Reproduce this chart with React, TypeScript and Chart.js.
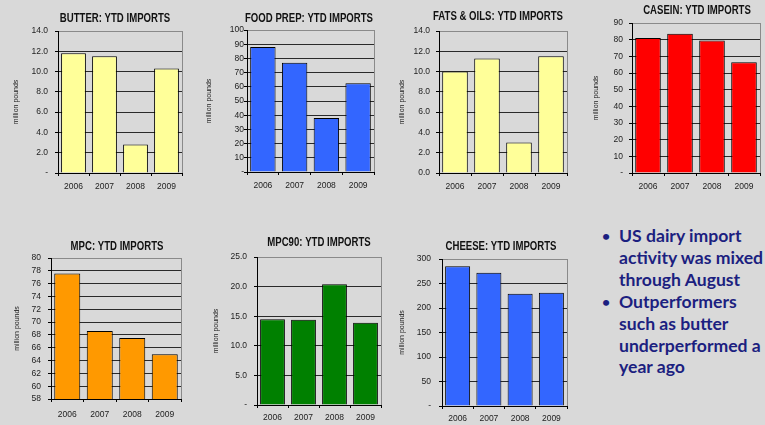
import React, { useEffect, useRef } from "react";
import { Chart, registerables } from "chart.js";

Chart.register(...registerables);

// ---- data ----
const years = ["2006", "2007", "2008", "2009"];
const butterImports = [11.8, 11.5, 2.8, 10.3];
const foodPrepImports = [88, 77, 38, 62.5];
const fatsOilsImports = [10.0, 11.3, 3.0, 11.5];
const caseinImports = [81, 83.5, 79.5, 66.5];
const mpcImports = [77.6, 68.6, 67.5, 65.0];
const mpc90Imports = [14.5, 14.4, 20.4, 13.9];
const cheeseImports = [285, 272, 229, 231];

const yAxisTitle = "million pounds";
const bulletPoints = [
  ["US dairy import", "activity was mixed", "through August"],
  ["Outperformers", "such as butter", "underperformed a", "year ago"],
];

// ---- styling / layout ----
const NARROW = "'Liberation Sans Narrow', 'Arial Narrow', 'Liberation Sans', Arial, sans-serif";
const PAGE_BG = "#d9d9d9";
const TITLE_SQUEEZE = 0.8;

type Panel = {
  title: string;
  values: number[];
  color: string;
  min: number;
  max: number;
  step: number;
  decimals: number;
  zeroLabel: string;
  area: [number, number, number, number]; // plot area: left, top, right, bottom (page px)
  titleAt: [number, number];
  yTitleX: number;
  labelGap: number;
  tickGap: number;
};

const panels: Panel[] = [
  {
    title: "BUTTER: YTD IMPORTS", values: butterImports, color: "#ffff99",
    min: 0, max: 14, step: 2, decimals: 1, zeroLabel: "-",
    area: [58, 31, 182, 173], titleAt: [115, 19], yTitleX: 17, labelGap: 13.5, tickGap: 10,
  },
  {
    title: "FOOD PREP: YTD IMPORTS", values: foodPrepImports, color: "#3366ff",
    min: 0, max: 100, step: 10, decimals: 0, zeroLabel: "-",
    area: [247, 30, 374, 172], titleAt: [309, 19], yTitleX: 210, labelGap: 13.5, tickGap: 3,
  },
  {
    title: "FATS & OILS: YTD IMPORTS", values: fatsOilsImports, color: "#ffff99",
    min: 0, max: 14, step: 2, decimals: 1, zeroLabel: "0.0",
    area: [439, 31, 567, 173], titleAt: [498, 17], yTitleX: 403, labelGap: 13.5, tickGap: 9,
  },
  {
    title: "CASEIN: YTD IMPORTS", values: caseinImports, color: "#ff0000",
    min: 0, max: 90, step: 10, decimals: 0, zeroLabel: "-",
    area: [632, 23, 760, 173], titleAt: [697, 11], yTitleX: 597, labelGap: 13.5, tickGap: 9,
  },
  {
    title: "MPC: YTD IMPORTS", values: mpcImports, color: "#ff9900",
    min: 58, max: 80, step: 2, decimals: 0, zeroLabel: "58",
    area: [51, 258, 181, 399], titleAt: [117, 247], yTitleX: 18, labelGap: 15.5, tickGap: 10,
  },
  {
    title: "MPC90: YTD IMPORTS", values: mpc90Imports, color: "#008000",
    min: 0, max: 25, step: 5, decimals: 1, zeroLabel: "-",
    area: [257, 257, 381, 405], titleAt: [319, 243], yTitleX: 217, labelGap: 13, tickGap: 10,
  },
  {
    title: "CHEESE: YTD IMPORTS", values: cheeseImports, color: "#3366ff",
    min: 0, max: 300, step: 50, decimals: 0, zeroLabel: "-",
    area: [442, 259, 567, 406], titleAt: [501, 247], yTitleX: 403, labelGap: 13, tickGap: 11,
  },
];

function BarPanel({ p }: { p: Panel }) {
  const ref = useRef<HTMLCanvasElement>(null);
  const [L, T, R, B] = p.area;
  const left = Math.floor(p.yTitleX - 5);
  const top = Math.floor(Math.min(p.titleAt[1] - 9, T - 8));
  const right = Math.ceil(R + 12);
  const bottom = Math.ceil(B + 22);
  const w = right - left;
  const h = bottom - top;

  useEffect(() => {
    const canvas = ref.current;
    if (!canvas) return;

    const panelDecor = {
      id: "panelDecor",
      afterDraw(chart: any) {
        const ctx = chart.ctx as CanvasRenderingContext2D;
        const a = chart.chartArea;
        ctx.save();
        // grey right edge of the plot frame
        ctx.strokeStyle = "#8a8a8a";
        ctx.lineWidth = 1;
        ctx.beginPath();
        const xr = Math.round(a.right) + 0.5;
        ctx.moveTo(xr, Math.round(a.top));
        ctx.lineTo(xr, Math.round(a.bottom));
        ctx.stroke();
        // panel heading, set in a condensed cut
        ctx.font = `bold 12px ${NARROW}`;
        ctx.fillStyle = "#111";
        ctx.textAlign = "center";
        ctx.textBaseline = "middle";
        ctx.translate(p.titleAt[0] - left, p.titleAt[1] - top);
        ctx.scale(TITLE_SQUEEZE, 1);
        ctx.fillText(p.title, 0, 0);
        ctx.restore();
      },
    };

    const chart = new Chart(canvas, {
      type: "bar",
      data: {
        labels: years,
        datasets: [
          {
            data: p.values,
            backgroundColor: p.color,
            borderColor: "#000",
            borderWidth: 1,
            barPercentage: 0.8,
            categoryPercentage: 1,
          },
        ],
      },
      options: {
        responsive: false,
        animation: false,
        devicePixelRatio: 1,
        layout: { padding: { top: T - top, right: right - R, left: 0, bottom: 0 } },
        plugins: {
          legend: { display: false },
          tooltip: { enabled: false },
          title: { display: false },
        },
        scales: {
          x: {
            grid: {
              display: true,
              drawOnChartArea: false,
              drawTicks: true,
              tickLength: 3,
              color: "#000",
              offset: true,
            },
            border: { color: "#000", width: 1 },
            ticks: {
              color: "#222",
              font: { family: NARROW, size: 8.5 },
              padding: p.labelGap - 3 - 5.1,
              maxRotation: 0,
            },
            afterFit: (s: any) => {
              s.height = bottom - B;
            },
          },
          y: {
            min: p.min,
            max: p.max,
            ticks: {
              stepSize: p.step,
              autoSkip: false,
              color: "#222",
              font: { family: NARROW, size: 8.5 },
              padding: Math.max(0, p.tickGap - 3),
              callback: (v: any) => {
                const n = Number(v);
                return n === 0 || n === p.min ? p.zeroLabel : n.toFixed(p.decimals);
              },
            },
            grid: {
              color: (c: any) => (c.tick && c.tick.value === p.max ? "#8a8a8a" : "#2a2a2a"),
              tickColor: "#000",
              tickLength: 3,
              lineWidth: 1,
            },
            border: { color: "#000", width: 1 },
            title: {
              display: true,
              text: yAxisTitle,
              color: "#222",
              font: { family: NARROW, size: 7 },
              padding: 0,
            },
            afterFit: (s: any) => {
              s.width = L - left;
            },
          },
        },
      },
      plugins: [panelDecor],
    } as any);

    return () => chart.destroy();
  }, []);

  return (
    <canvas
      ref={ref}
      width={w}
      height={h}
      style={{ position: "absolute", left, top, width: w, height: h }}
    />
  );
}

export default function App() {
  return (
    <div
      style={{
        position: "absolute",
        left: 0,
        top: 0,
        width: 765,
        height: 425,
        background: PAGE_BG,
        overflow: "hidden",
      }}
    >
      {panels.map((p) => (
        <BarPanel key={p.title} p={p} />
      ))}
      <div
        style={{
          position: "absolute",
          left: 602,
          top: 225,
          width: 170,
          fontFamily: "Lato, 'Open Sans', sans-serif",
          fontWeight: 700,
          fontSize: 17.6,
          lineHeight: "21.9px",
          color: "#1c1f80",
          whiteSpace: "nowrap",
        }}
      >
        {bulletPoints.map((lines, i) => (
          <div key={i} style={{ position: "relative", paddingLeft: 17 }}>
            <span style={{ position: "absolute", left: 0, top: 0, fontSize: 14 }}>•</span>
            {lines.map((ln, j) => (
              <div key={j}>{ln}</div>
            ))}
          </div>
        ))}
      </div>
    </div>
  );
}
